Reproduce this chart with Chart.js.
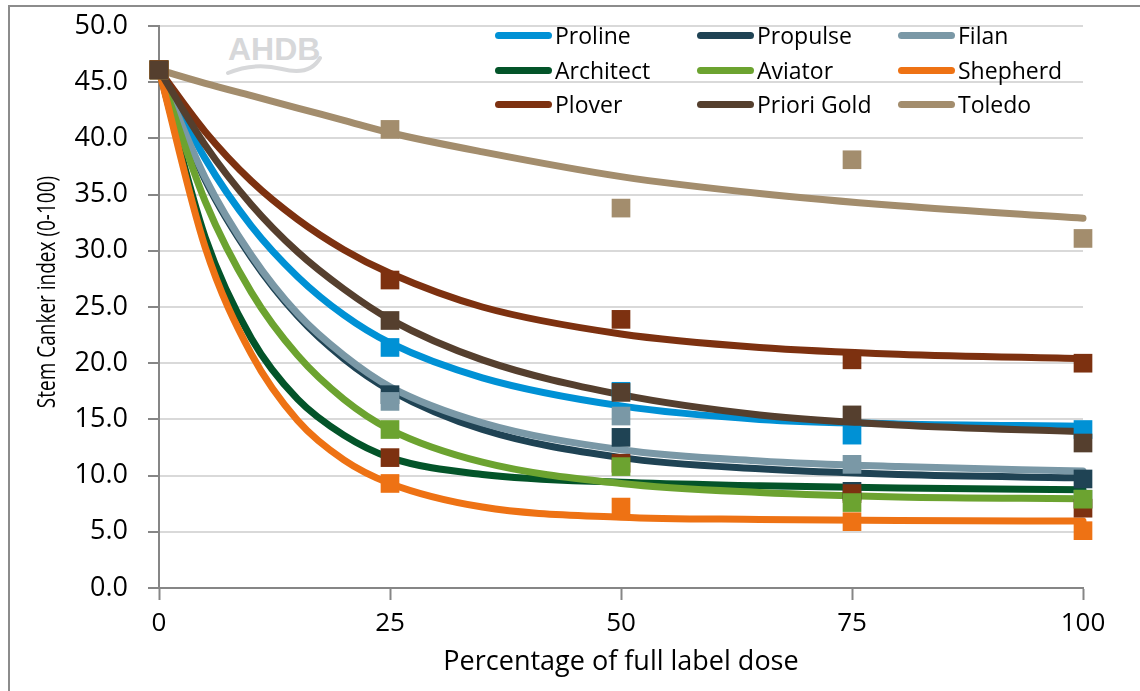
<!DOCTYPE html>
<html>
<head>
<meta charset="utf-8">
<script src="https://cdn.jsdelivr.net/npm/chart.js@4.4.1/dist/chart.umd.min.js"></script>
<style>
  body { margin: 0; background: #fff; }
  #wrap { position: relative; width: 1140px; height: 691px; overflow: hidden; font-family: 'Open Sans', sans-serif; }
  #frame { position: absolute; left: 8px; top: 5px; width: 1300px; height: 900px; border-left: 2px solid #8c8c8c; border-top: 2px solid #8c8c8c; }
  #chart { position: absolute; left: 0; top: 0; }
  #logo { position: absolute; left: 228px; top: 33px; font: bold 32px 'Liberation Sans', sans-serif; line-height: 32px; color: #d7d8da; }
  #wave { position: absolute; left: 224px; top: 54px; }
  .key { position: absolute; display: flex; align-items: center; font-size: 23px; color: #000; height: 30px; white-space: nowrap; }
  .key .swatch { display: inline-block; width: 57px; height: 7px; border-radius: 4px; margin-right: 3px; }
</style>
</head>
<body>
<div id="wrap">
  <div id="frame"></div>
  <div id="logo">AHDB</div>
  <svg id="wave" width="100" height="26">
    <path d="M4 19 Q 30 8, 58 15 T 96 4" stroke="#d7d8da" stroke-width="4" fill="none" stroke-linecap="round"/>
  </svg>
  <canvas id="chart" width="1140" height="691"></canvas>
  <div id="legend"></div>
</div>
<script>
const doses = [0, 25, 50, 75, 100];
const fitDoses = [0, 5, 10, 15, 20, 25, 35, 50, 65, 80, 100];

const varieties = ['Proline', 'Propulse', 'Filan', 'Architect', 'Aviator', 'Shepherd', 'Plover', 'Priori Gold', 'Toledo'];

// Observed stem canker index
const prolineObs    = [46.1, 21.4, 17.5, 13.6, 14.1];
const propulseObs   = [46.1, 17.2, 13.4, 8.6, 9.7];
const filanObs      = [46.1, 16.6, 15.3, 11.0, 7.9];
const architectObs  = [46.1, 11.6, 11.1, 8.4, 7.1];
const aviatorObs    = [46.1, 14.1, 10.8, 7.6, 7.9];
const shepherdObs   = [46.1, 9.3, 7.2, 5.9, 5.1];
const ploverObs     = [46.1, 27.4, 23.9, 20.3, 20.0];
const prioriGoldObs = [46.1, 23.8, 17.4, 15.4, 12.9];
const toledoObs     = [46.1, 40.8, 33.8, 38.1, 31.1];

// Fitted curves
const prolineFit    = [46.1, 38.2, 32.2, 27.7, 24.3, 21.8, 18.7, 16.2, 15.0, 14.6, 14.4];
const propulseFit   = [46.1, 36.3, 29.4, 24.2, 20.4, 17.6, 14.1, 11.6, 10.6, 10.1, 9.8];
const filanFit      = [46.1, 36.5, 29.6, 24.4, 20.7, 17.9, 14.7, 12.3, 11.3, 10.8, 10.4];
const architectFit  = [46.1, 31.2, 22.2, 16.8, 13.6, 11.6, 10.1, 9.4, 9.1, 8.9, 8.75];
const aviatorFit    = [46.1, 34.4, 26.3, 20.7, 16.8, 14.1, 11.2, 9.3, 8.5, 8.1, 7.95];
const shepherdFit   = [46.1, 30.3, 20.8, 14.9, 11.4, 9.3, 7.2, 6.3, 6.1, 6.0, 5.95];
const ploverFit     = [46.1, 40.6, 36.2, 32.8, 30.1, 28.0, 25.0, 22.6, 21.4, 20.8, 20.4];
const prioriGoldFit = [46.1, 39.4, 34.1, 29.9, 26.6, 23.9, 20.3, 17.2, 15.4, 14.5, 13.9];
const toledoFit     = [46.1, 44.9, 43.8, 42.7, 41.6, 40.5, 38.8, 36.6, 35.1, 34.0, 32.9];

const observed = [prolineObs, propulseObs, filanObs, architectObs, aviatorObs, shepherdObs, ploverObs, prioriGoldObs, toledoObs];
const fitted = [prolineFit, propulseFit, filanFit, architectFit, aviatorFit, shepherdFit, ploverFit, prioriGoldFit, toledoFit];

const lineColours   = ['#0091d5', '#1f4354', '#7a98a6', '#035429', '#6ca330', '#ee7214', '#7d3110', '#553f2e', '#a38d6d'];
const markerColours = ['#0091d5', '#1f4354', '#7a98a6', '#7d3110', '#6ca330', '#ee7214', '#7d3110', '#553f2e', '#a38d6d'];
// lower = drawn on top
const markerOrder = [7, 6, 5, 4, 3, 2, 1, 0, 8];
const lineOrder   = [18, 17, 16, 15, 14, 13, 11, 10, 12];

const datasets = [];
varieties.forEach((name, i) => {
    datasets.push({
        type: 'line',
        label: name,
        data: fitDoses.map((d, j) => ({ x: d, y: fitted[i][j] })),
        borderColor: lineColours[i],
        borderWidth: 7,
        borderCapStyle: 'round',
        pointRadius: 0,
        cubicInterpolationMode: 'monotone',
        fill: false,
        clip: false,
        order: lineOrder[i]
    });
    datasets.push({
        type: 'scatter',
        label: name + ' data',
        data: doses.map((d, j) => ({ x: d, y: observed[i][j] })),
        pointStyle: 'rect',
        pointRadius: 13.2,
        backgroundColor: markerColours[i],
        borderWidth: 0,
        showLine: false,
        clip: false,
        order: markerOrder[i]
    });
});

// Y axis title, drawn where the original has it (narrowed a little, like the original face)
const yTitle = {
    id: 'yTitle',
    afterDraw(chart) {
        const c = chart.ctx;
        c.save();
        c.translate(48, 292);
        c.rotate(-Math.PI / 2);
        c.scale(0.76, 1);
        c.font = '25px "Open Sans"';
        c.fillStyle = '#000';
        c.textAlign = 'center';
        c.textBaseline = 'middle';
        c.fillText('Stem Canker index (0-100)', 0, 0);
        c.restore();
    }
};

new Chart(document.getElementById('chart'), {
    type: 'scatter',
    data: { datasets },
    plugins: [yTitle],
    options: {
        responsive: false,
        animation: false,
        devicePixelRatio: 1,
        layout: { padding: { left: 0, top: 26, right: 57, bottom: 0 } },
        plugins: { legend: { display: false }, tooltip: { enabled: false } },
        scales: {
            x: {
                type: 'linear',
                min: 0,
                max: 100,
                afterFit: (s) => { s.height = 103; s.paddingLeft = 0; s.paddingRight = 0; },
                ticks: { stepSize: 25, padding: 8, color: '#000', font: { family: 'Open Sans', size: 26 } },
                grid: { drawOnChartArea: false, drawTicks: true, tickLength: 12, tickColor: '#868686', tickWidth: 2 },
                border: { color: '#868686', width: 2 },
                title: {
                    display: true,
                    text: 'Percentage of full label dose',
                    color: '#000',
                    font: { family: 'Open Sans', size: 27 },
                    padding: { top: 0, bottom: 12 }
                }
            },
            y: {
                min: 0,
                max: 50,
                afterFit: (s) => { s.width = 159; s.paddingTop = 0; s.paddingBottom = 0; },
                ticks: {
                    stepSize: 5,
                    padding: 20,
                    color: '#000',
                    font: { family: 'Open Sans', size: 27 },
                    callback: (v) => v.toFixed(1)
                },
                grid: { color: '#d9d9d9', lineWidth: 2, tickLength: 11, tickColor: '#868686', tickWidth: 2 },
                border: { color: '#868686', width: 2 }
            }
        }
    }
});

// Legend in three columns like the original
const legend = document.getElementById('legend');
const colX = [495, 697, 898];
const rowY = [35, 70, 104];
varieties.forEach((name, i) => {
    const item = document.createElement('div');
    item.className = 'key';
    item.style.left = colX[i % 3] + 'px';
    item.style.top = (rowY[Math.floor(i / 3)] - 15) + 'px';
    item.innerHTML = `<span class="swatch" style="background:${lineColours[i]}"></span>${name}`;
    legend.appendChild(item);
});
</script>
</body>
</html>
